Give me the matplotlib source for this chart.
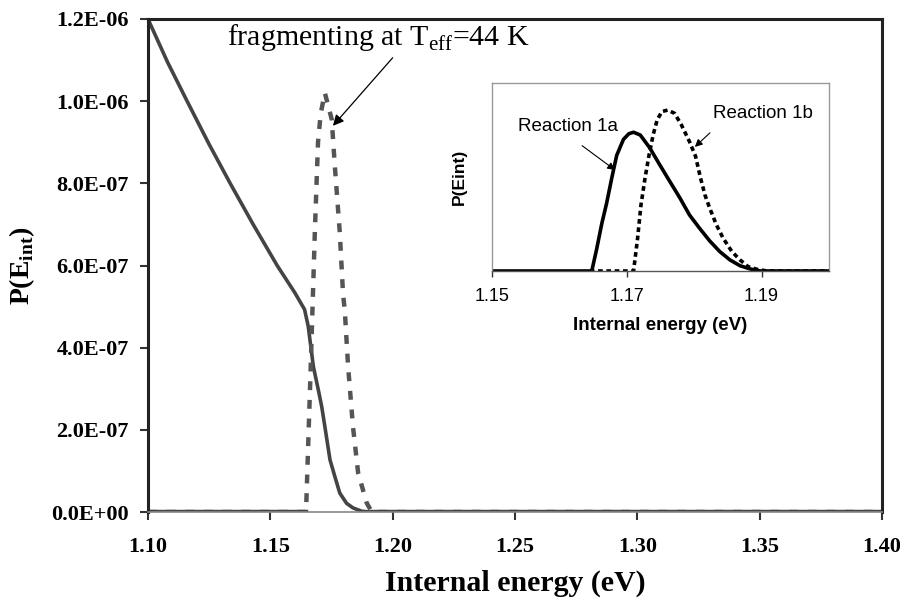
import numpy as np
import matplotlib
matplotlib.use("Agg")
import matplotlib.pyplot as plt

plt.rcParams['mathtext.fontset'] = 'custom'
plt.rcParams['mathtext.rm'] = 'Liberation Serif'
plt.rcParams['mathtext.bf'] = 'Liberation Serif:bold'

# main plot: thermal distribution (solid) and fragmenting distribution (dashed)
e_solid = [1.100, 1.108, 1.116, 1.125, 1.1336, 1.143, 1.1528, 1.160, 1.164, 1.1655,
           1.1676, 1.1696, 1.171, 1.1723, 1.1744, 1.1764, 1.1784, 1.1812, 1.1838, 1.1873,
           1.1907, 1.25, 1.30, 1.35, 1.40]
p_solid = [1.20e-6, 1.095e-6, 1.00e-6, 0.895e-6, 0.80e-6, 0.70e-6, 0.60e-6, 0.534e-6, 0.493e-6, 0.452e-6,
           0.354e-6, 0.298e-6, 0.257e-6, 0.208e-6, 0.127e-6, 0.086e-6, 0.046e-6, 0.021e-6, 0.010e-6, 0.002e-6,
           0.0, 0.0, 0.0, 0.0, 0.0]

e_frag = [1.100, 1.130, 1.1646, 1.1665, 1.1682, 1.1695, 1.1706, 1.1723, 1.1751, 1.1764,
          1.1784, 1.1797, 1.1805, 1.1818, 1.1838, 1.1859, 1.1894, 1.1915, 1.25, 1.30, 1.35, 1.40]
p_frag = [0.0, 0.0, 0.0, 0.35e-6, 0.68e-6, 0.90e-6, 0.97e-6, 1.02e-6, 0.956e-6, 0.84e-6,
          0.68e-6, 0.534e-6, 0.485e-6, 0.354e-6, 0.207e-6, 0.095e-6, 0.022e-6, 0.0, 0.0, 0.0, 0.0, 0.0]

# inset: reaction 1a (solid) and 1b (dashed), arbitrary units
e_1a = [1.150, 1.160, 1.1648, 1.1655, 1.1663, 1.1670, 1.1678, 1.1685, 1.1695, 1.1703, 1.1710,
        1.1720, 1.1734, 1.1749, 1.1764, 1.1779, 1.1793, 1.1808, 1.1823, 1.1838, 1.1853,
        1.1868, 1.1883, 1.1898, 1.195, 1.200]
p_1a = [0.0, 0.0, 0.0, 0.112, 0.254, 0.36, 0.50, 0.615, 0.70, 0.73, 0.738,
        0.723, 0.655, 0.564, 0.475, 0.387, 0.298, 0.227, 0.160, 0.103, 0.059,
        0.028, 0.011, 0.0, 0.0, 0.0]

e_1b = [1.1645, 1.1680, 1.1710, 1.1716, 1.1721, 1.1727, 1.1733, 1.1739, 1.1745, 1.1752, 1.1761,
        1.1771, 1.1781, 1.1793, 1.1802, 1.1809, 1.1816, 1.1823, 1.1833, 1.1843, 1.1856,
        1.1868, 1.1880, 1.1893, 1.1908, 1.195, 1.200]
p_1b = [0.0, 0.0, 0.0, 0.174, 0.351, 0.493, 0.617, 0.723, 0.803, 0.848, 0.856,
        0.838, 0.777, 0.688, 0.61, 0.50, 0.404, 0.334, 0.245, 0.174, 0.103,
        0.059, 0.023, 0.009, 0.0, 0.0, 0.0]

x_ticks = [1.10, 1.15, 1.20, 1.25, 1.30, 1.35, 1.40]
y_ticks = [0.0, 2e-7, 4e-7, 6e-7, 8e-7, 1.0e-6, 1.2e-6]
y_ticklabels = ['0.0E+00', '2.0E-07', '4.0E-07', '6.0E-07', '8.0E-07', '1.0E-06', '1.2E-06']
inset_ticks = [1.15, 1.17, 1.19]

serif = 'Liberation Serif'
sans = 'Liberation Sans'

fig = plt.figure(figsize=(9, 6.03), dpi=100)
ax = fig.add_axes([0.1644, 0.1509, 0.8156, 0.8176])

ax.plot(e_solid, p_solid, color='#444444', lw=2.6, solid_capstyle='round')
ax.plot(e_frag, p_frag, color='#555555', lw=3.2, dashes=(2.0, 2.2))
# zero parts of the dashed curve lie on the axis and look solid
pf = np.array(p_frag)
ax.plot(e_frag, np.where(pf == 0, pf, np.nan), color='#444444', lw=3.2)

ax.set_xlim(1.10, 1.40)
ax.set_ylim(0, 1.2e-6)
ax.set_xticks(x_ticks)
ax.set_xticklabels(['%.2f' % v for v in x_ticks], fontfamily=serif, fontweight='bold', fontsize=16)
ax.set_yticks(y_ticks)
ax.set_yticklabels(y_ticklabels, fontfamily=serif, fontweight='bold', fontsize=16)
ax.tick_params(axis='both', direction='out', length=6, width=1.5, color='#333333', pad=8)
ax.tick_params(axis='x', pad=12)
for s in ax.spines.values():
    s.set_linewidth(2.2)
    s.set_color('#222222')
ax.spines['bottom'].set_linewidth(1.2)
ax.spines['bottom'].set_color('#888888')

ax.set_xlabel('Internal energy (eV)', fontfamily=serif, fontweight='bold', fontsize=21.5, labelpad=9)
ax.set_ylabel(r'P(E$_{\mathbf{int}}$)', fontfamily=serif, fontweight='bold', fontsize=20, labelpad=10)

ax.annotate(r'fragmenting at T$_{\mathrm{eff}}$=44 K', xy=(1.1756, 0.94e-6), xytext=(1.1325, 1.137e-6),
            fontfamily=serif, fontsize=21.5, va='baseline', ha='left',
            arrowprops=dict(arrowstyle='-|>', color='black', lw=0.9, mutation_scale=16,
                            shrinkA=2, shrinkB=0, relpos=(0.56, 0.0)))

# inset
ins = fig.add_axes([0.5467, 0.5506, 0.3744, 0.3118])
ins.plot(e_1a, p_1a, color='black', lw=2.6)
ins.plot(e_1b, p_1b, color='black', lw=2.6, dashes=(1.3, 1.0))
ins.set_xlim(1.15, 1.20)
ins.set_ylim(0, 1.0)
ins.set_xticks(inset_ticks)
ins.set_xticklabels(['%.2f' % v for v in inset_ticks], fontfamily=sans, fontsize=13)
ins.set_yticks([])
ins.tick_params(axis='x', direction='out', length=4, width=1, color='#333333', pad=8)
for s in ins.spines.values():
    s.set_linewidth(1.0)
    s.set_color('#999999')
ins.spines['bottom'].set_color('#555555')
ins.set_xlabel('Internal energy (eV)', fontfamily=sans, fontweight='bold', fontsize=13.5, labelpad=9)
ins.set_ylabel('P(Eint)', fontfamily=sans, fontweight='bold', fontsize=12.5, labelpad=18)

ins.annotate('Reaction 1a', xy=(1.16825, 0.537), xytext=(1.1539, 0.766), fontfamily=sans, fontsize=13.5,
             va='center', ha='left',
             arrowprops=dict(arrowstyle='-|>', color='black', lw=0.8, mutation_scale=11,
                             shrinkA=9, shrinkB=0, relpos=(0.5, 0.0)))
ins.annotate('Reaction 1b', xy=(1.1801, 0.66), xytext=(1.1828, 0.84), fontfamily=sans, fontsize=13.5,
             va='center', ha='left',
             arrowprops=dict(arrowstyle='-|>', color='black', lw=0.8, mutation_scale=11,
                             shrinkA=9, shrinkB=0, relpos=(0.09, 0.0)))

fig.savefig('out.png', dpi=100)
